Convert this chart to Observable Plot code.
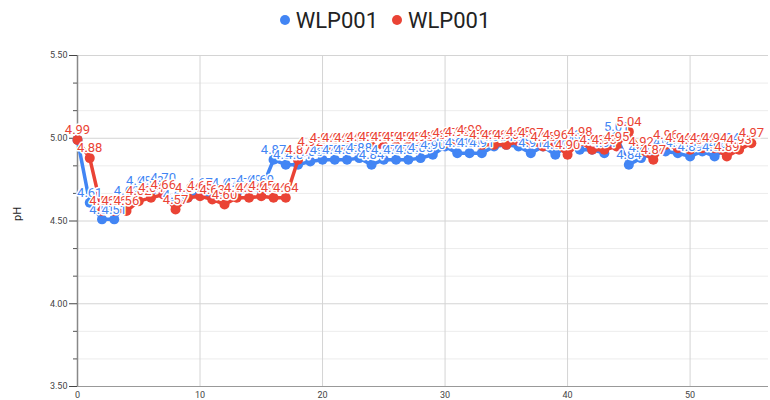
<!DOCTYPE html>
<html>
<head>
<meta charset="utf-8">
<script src="https://cdn.jsdelivr.net/npm/d3@7"></script>
<script src="https://cdn.jsdelivr.net/npm/@observablehq/plot@0.6"></script>
<style>
  html, body { margin: 0; padding: 0; background: #fff; }
  body { width: 770px; height: 400px; overflow: hidden; font-family: Roboto, "Liberation Sans", Arial, sans-serif; }
  #legend { height: 40px; display: flex; justify-content: center; align-items: center; gap: 14px; font-size: 22px; color: #222; box-sizing: border-box; }
  .item { display: flex; align-items: center; gap: 6px; }
  .dot { width: 10px; height: 10px; border-radius: 50%; display: inline-block; }
</style>
</head>
<body>
<div id="legend"></div>
<div id="chart"></div>
<script>
const seriesNames = ["WLP001", "WLP001"];
const seriesColors = ["#4285F4", "#EA4335"];
const blueValues = [4.99, 4.61, 4.51, 4.51, 4.62, 4.68, 4.68, 4.70, 4.60, 4.64,
  4.67, 4.64, 4.67, 4.67, 4.69, 4.69, 4.87, 4.84, 4.84, 4.86,
  4.87, 4.87, 4.87, 4.88, 4.84, 4.87, 4.87, 4.87, 4.88, 4.90,
  4.95, 4.91, 4.91, 4.91, 4.95, 4.96, 4.95, 4.91, 4.95, 4.90,
  4.96, 4.93, 4.93, 4.91, 5.01, 4.84, 4.88, 4.91, 4.92, 4.91,
  4.89, 4.92, 4.89, 4.94];
const redValues = [4.99, 4.88, 4.56, 4.56, 4.56, 4.62, 4.64, 4.66, 4.57, 4.64,
  4.65, 4.63, 4.60, 4.64, 4.64, 4.65, 4.64, 4.64, 4.87, 4.92,
  4.94, 4.94, 4.94, 4.95, 4.95, 4.95, 4.95, 4.95, 4.95, 4.96,
  4.97, 4.98, 4.99, 4.96, 4.96, 4.96, 4.98, 4.97, 4.95, 4.96,
  4.90, 4.98, 4.93, 4.93, 4.95, 5.04, 4.92, 4.87, 4.96, 4.94,
  4.93, 4.94, 4.94, 4.89, 4.93, 4.97];
const xTicks = [0, 10, 20, 30, 40, 50];
const yTicks = [3.5, 4.0, 4.5, 5.0, 5.5];
const yMinor = [3.6667, 3.8333, 4.1667, 4.3333, 4.6667, 4.8333, 5.1667, 5.3333];
const yLabel = "pH";

const blue = blueValues.map((v, i) => ({x: i, v}));
const red = redValues.map((v, i) => ({x: i, v}));

const leg = document.getElementById("legend");
seriesNames.forEach((n, i) => {
  const it = document.createElement("span");
  it.className = "item";
  const d = document.createElement("span");
  d.className = "dot";
  d.style.background = seriesColors[i];
  it.appendChild(d);
  it.appendChild(document.createTextNode(n));
  leg.appendChild(it);
});

const labelStyle = {fontSize: 13, stroke: "white", strokeWidth: 3, paintOrder: "stroke", dy: -10};

const chart = Plot.plot({
  width: 770,
  height: 360,
  marginLeft: 77,
  marginRight: 2,
  marginTop: 15,
  marginBottom: 14,
  style: {fontFamily: "Roboto, 'Liberation Sans', Arial, sans-serif", background: "white"},
  x: {type: "linear", domain: [0, 56.4], label: null},
  y: {type: "linear", domain: [3.5, 5.5], label: null},
  marks: [
    Plot.ruleY(yMinor, {stroke: "#ececec"}),
    Plot.ruleY(yTicks, {stroke: "#d4d4d4"}),
    Plot.ruleX(xTicks.filter(t => t > 0), {stroke: "#d4d4d4"}),
    Plot.ruleY([3.5], {stroke: "#999"}),
    Plot.ruleX([0], {stroke: "#888", strokeWidth: 1.5}),
    Plot.axisY({ticks: yTicks, tickFormat: d3.format(".2f"), tickSize: 8, tickPadding: 2, fontSize: 9, color: "#444", label: null}),
    Plot.axisY({ticks: yMinor, tickFormat: () => "", tickSize: 4, label: null, color: "#555"}),
    Plot.axisX({ticks: xTicks, tickSize: 0, tickPadding: 5, fontSize: 9, color: "#444", label: null}),
    Plot.line(blue, {x: "x", y: "v", stroke: seriesColors[0], strokeWidth: 3.5}),
    Plot.dot(blue, {x: "x", y: "v", fill: seriesColors[0], r: 5}),
    Plot.line(red, {x: "x", y: "v", stroke: seriesColors[1], strokeWidth: 3.5}),
    Plot.dot(red, {x: "x", y: "v", fill: seriesColors[1], r: 5}),
    Plot.text(blue, {x: "x", y: "v", text: d => d.v.toFixed(2), fill: seriesColors[0], ...labelStyle}),
    Plot.text(red, {x: "x", y: "v", text: d => d.v.toFixed(2), fill: seriesColors[1], ...labelStyle}),
    Plot.text([yLabel], {frameAnchor: "left", dx: -60, rotate: -90, fontSize: 11, fill: "#222", text: d => d})
  ]
});
document.getElementById("chart").appendChild(chart);
</script>
</body>
</html>
